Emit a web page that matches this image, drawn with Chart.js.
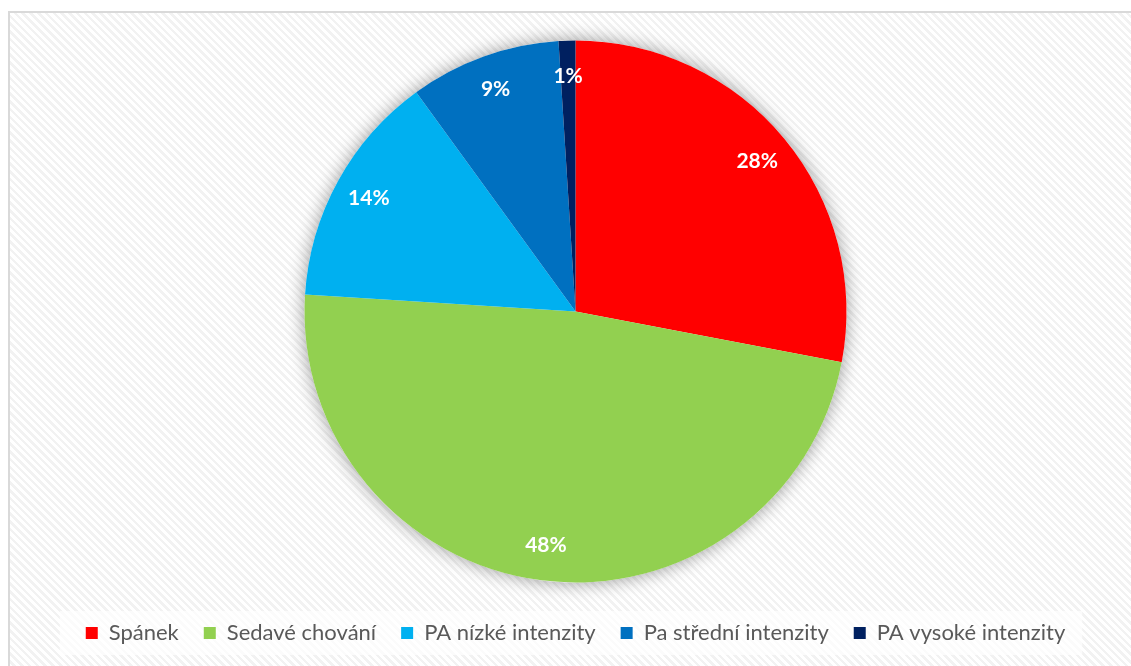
<!DOCTYPE html>
<html>
<head>
<meta charset="utf-8">
<script src="https://cdn.jsdelivr.net/npm/chart.js@4/dist/chart.umd.min.js"></script>
<style>
  html, body { margin: 0; padding: 0; background: #fff; }
  body { width: 1131px; height: 666px; position: relative; overflow: hidden; }
  .frame {
    position: absolute; left: 8px; top: 11px; width: 1140px; height: 670px;
    border: 2px solid #d9d9d9;
    background: repeating-linear-gradient(45deg, #ffffff 0px, #ffffff 3px, #f2f2f2 3px, #f2f2f2 5.5px);
  }
  .wrap { position: absolute; left: 0; top: 0; width: 1131px; height: 666px; }
</style>
</head>
<body>
<div class="frame"></div>
<div class="wrap"><canvas id="pieChart"></canvas></div>
<script>
var categories = ['Spánek', 'Sedavé chování', 'PA nízké intenzity', 'Pa střední intenzity', 'PA vysoké intenzity'];
var shares = [28, 48, 14, 9, 1];
var colors = ['#FF0000', '#92D050', '#00B0F0', '#0070C0', '#002060'];

var fontFamily = 'Lato, "Open Sans", sans-serif';

// soft grey glow under the whole pie
var pieShadow = {
  id: 'pieShadow',
  beforeDatasetsDraw: function (chart) {
    var arc = chart.getDatasetMeta(0).data[0];
    if (!arc) return;
    var ctx = chart.ctx;
    ctx.save();
    ctx.shadowColor = 'rgba(0,0,0,0.4)';
    ctx.shadowBlur = 18;
    ctx.beginPath();
    ctx.arc(arc.x, arc.y, arc.outerRadius, 0, Math.PI * 2);
    ctx.fillStyle = '#ffffff';
    ctx.fill();
    ctx.restore();
  }
};

// pale panel behind the legend row
var legendPanel = {
  id: 'legendPanel',
  beforeDraw: function (chart) {
    var boxes = chart.legend && chart.legend.legendHitBoxes;
    if (!boxes || !boxes.length) return;
    var left = Infinity, right = -Infinity, mid = 0;
    boxes.forEach(function (b) {
      left = Math.min(left, b.left);
      right = Math.max(right, b.left + b.width);
      mid = b.top + b.height / 2;
    });
    var ctx = chart.ctx;
    ctx.save();
    ctx.fillStyle = 'rgba(255,255,255,0.7)';
    ctx.fillRect(left - 26, mid - 22, right - left + 43, 44);
    ctx.restore();
  }
};

// percentage labels inside each slice
var sliceLabels = {
  id: 'sliceLabels',
  afterDatasetsDraw: function (chart) {
    var ctx = chart.ctx;
    var data = chart.data.datasets[0].data;
    var total = data.reduce(function (a, b) { return a + b; }, 0);
    ctx.save();
    ctx.font = 'bold 21px ' + fontFamily;
    ctx.fillStyle = '#ffffff';
    ctx.textAlign = 'center';
    ctx.textBaseline = 'middle';
    chart.getDatasetMeta(0).data.forEach(function (arc, i) {
      var mid = (arc.startAngle + arc.endAngle) / 2;
      var r = arc.outerRadius * 0.87;
      var pct = Math.round(data[i] / total * 100) + '%';
      ctx.fillText(pct, arc.x + Math.cos(mid) * r, arc.y + Math.sin(mid) * r);
    });
    ctx.restore();
  }
};

new Chart(document.getElementById('pieChart'), {
  type: 'pie',
  data: {
    labels: categories,
    datasets: [{ data: shares, backgroundColor: colors, borderWidth: 0, radius: 271 }]
  },
  options: {
    responsive: true,
    maintainAspectRatio: false,
    animation: false,
    layout: { padding: { top: 26, left: 20, right: 0, bottom: 12 } },
    plugins: {
      tooltip: { enabled: false },
      legend: {
        position: 'bottom',
        labels: {
          color: '#595959',
          boxWidth: 12,
          boxHeight: 12,
          padding: 25,
          font: { family: fontFamily, size: 22 }
        }
      }
    }
  },
  plugins: [pieShadow, legendPanel, sliceLabels]
});
</script>
</body>
</html>
